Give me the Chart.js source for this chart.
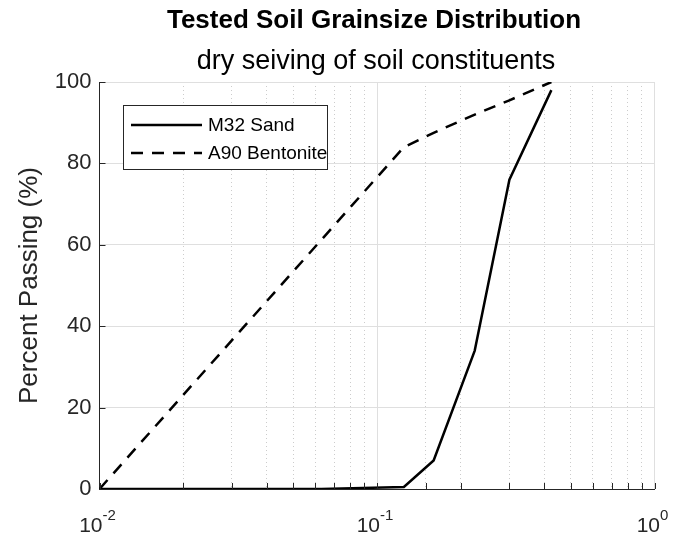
<!DOCTYPE html>
<html>
<head>
<meta charset="utf-8">
<title>Tested Soil Grainsize Distribution</title>
<script src="https://cdn.jsdelivr.net/npm/chart.js@4"></script>
<style>
  html, body { margin: 0; padding: 0; background: #fff; }
  canvas { display: block; }
</style>
</head>
<body>
<canvas id="gsdChart" width="674" height="536"></canvas>
<script>
// grain sizes (mm) and percent passing
const sandSizes = [0.01, 0.063, 0.125, 0.16, 0.225, 0.3, 0.425];
const sandPassing = [0, 0, 0.5, 7, 34, 76, 98];
const bentoniteSizes = [0.01, 0.125, 0.16, 0.225, 0.3, 0.425];
const bentonitePassing = [0, 84, 87.5, 92, 95.5, 100];
const seriesNames = ["M32 Sand", "A90 Bentonite"];
const yTicks = [0, 20, 40, 60, 80, 100];
const xDecades = [-2, -1, 0];

const titleText = "Tested Soil Grainsize Distribution";
const subtitleText = "dry seiving of soil constituents";
const yTitle = "Percent Passing (%)";

const FONT = "'Liberation Sans', Arial, Helvetica, sans-serif";
const AXIS = "#262626";

const toPoints = (xs, ys) => xs.map((x, i) => ({ x: x, y: ys[i] }));
const isDecade = v => Math.abs(Math.log10(v) - Math.round(Math.log10(v))) < 1e-6;

// titles, inward ticks, power-of-ten labels and boxed legend (matlab look)
const matlabBits = {
    id: "matlabBits",
    afterDatasetsDraw(chart) {
        const ctx = chart.ctx;
        const area = chart.chartArea;
        const xs = chart.scales.x;
        const ys = chart.scales.y;
        const cx = (area.left + area.right) / 2;

        ctx.save();
        ctx.fillStyle = "#000";
        ctx.textAlign = "center";
        ctx.textBaseline = "middle";
        ctx.font = "bold 26px " + FONT;
        ctx.fillText(titleText, cx - 3, 21);
        ctx.font = "27px " + FONT;
        ctx.fillText(subtitleText, cx - 1, 62);

        // inward tick marks
        ctx.strokeStyle = AXIS;
        ctx.lineWidth = 1;
        ctx.beginPath();
        xs.ticks.forEach(t => {
            const px = Math.round(xs.getPixelForValue(t.value)) + 0.5;
            ctx.moveTo(px, area.bottom);
            ctx.lineTo(px, area.bottom - 6);
        });
        ys.ticks.forEach(t => {
            const py = Math.round(ys.getPixelForValue(t.value)) + 0.5;
            ctx.moveTo(area.left, py);
            ctx.lineTo(area.left + 6, py);
        });
        ctx.stroke();

        // x labels 10^n
        ctx.fillStyle = AXIS;
        ctx.textBaseline = "alphabetic";
        xDecades.forEach(p => {
            const px = xs.getPixelForValue(Math.pow(10, p));
            const exp = String(p);
            ctx.font = "21px " + FONT;
            const wb = ctx.measureText("10").width;
            ctx.font = "15px " + FONT;
            const we = ctx.measureText(exp).width;
            const x0 = px - (wb + we) / 2 - 2;
            ctx.textAlign = "left";
            ctx.font = "21px " + FONT;
            ctx.fillText("10", x0, 532);
            ctx.font = "15px " + FONT;
            ctx.fillText(exp, x0 + wb, 520);
        });

        // legend
        const lx = 123.5, ly = 105.5, lw = 204, lh = 64;
        ctx.fillStyle = "#fff";
        ctx.fillRect(lx, ly, lw, lh);
        ctx.strokeStyle = AXIS;
        ctx.lineWidth = 1;
        ctx.strokeRect(lx, ly, lw, lh);
        chart.data.datasets.forEach((ds, i) => {
            const ry = 125 + i * 28;
            ctx.strokeStyle = ds.borderColor;
            ctx.lineWidth = ds.borderWidth;
            ctx.setLineDash(ds.borderDash || []);
            ctx.beginPath();
            ctx.moveTo(131, ry);
            ctx.lineTo(202, ry);
            ctx.stroke();
            ctx.setLineDash([]);
            ctx.fillStyle = "#000";
            ctx.font = "19px " + FONT;
            ctx.textAlign = "left";
            ctx.textBaseline = "middle";
            ctx.fillText(ds.label, 208, ry + 1);
        });
        ctx.restore();
    }
};

const ctx = document.getElementById("gsdChart").getContext("2d");
new Chart(ctx, {
    type: "line",
    data: {
        datasets: [{
            label: seriesNames[0],
            data: toPoints(sandSizes, sandPassing),
            borderColor: "#000",
            borderWidth: 2.5,
            pointRadius: 0,
            tension: 0
        }, {
            label: seriesNames[1],
            data: toPoints(bentoniteSizes, bentonitePassing),
            borderColor: "#000",
            borderWidth: 2.5,
            borderDash: [12, 9],
            pointRadius: 0,
            tension: 0
        }]
    },
    options: {
        responsive: false,
        animation: false,
        devicePixelRatio: 1,
        layout: { padding: { top: 82, right: 19.5, left: 0, bottom: 0 } },
        plugins: {
            legend: { display: false },
            title: { display: false },
            tooltip: { enabled: false }
        },
        scales: {
            x: {
                type: "logarithmic",
                min: 0.01,
                max: 1,
                ticks: { display: false },
                grid: {
                    drawTicks: false,
                    color: c => isDecade(c.tick.value) ? "#dfdfdf" : "rgba(0,0,0,0)"
                },
                border: { display: true, color: AXIS, width: 1 },
                afterFit: s => { s.height = 47; }
            },
            xMinor: {
                type: "logarithmic",
                position: "bottom",
                min: 0.01,
                max: 1,
                ticks: { display: false },
                grid: {
                    drawTicks: false,
                    color: c => isDecade(c.tick.value) ? "rgba(0,0,0,0)" : "#cccccc"
                },
                border: { display: false, dash: [1, 3] },
                afterFit: s => { s.height = 0; }
            },
            y: {
                min: 0,
                max: 100,
                afterBuildTicks: s => { s.ticks = yTicks.map(v => ({ value: v })); },
                ticks: {
                    color: AXIS,
                    padding: 8,
                    font: { family: FONT, size: 22 }
                },
                grid: { drawTicks: false, color: "#dfdfdf" },
                border: { display: true, color: AXIS, width: 1 },
                title: {
                    display: true,
                    text: yTitle,
                    color: AXIS,
                    padding: { top: 14, bottom: 0 },
                    font: { family: FONT, size: 26 }
                },
                afterFit: s => { s.width = 99.5; }
            }
        }
    },
    plugins: [matlabBits]
});
</script>
</body>
</html>
